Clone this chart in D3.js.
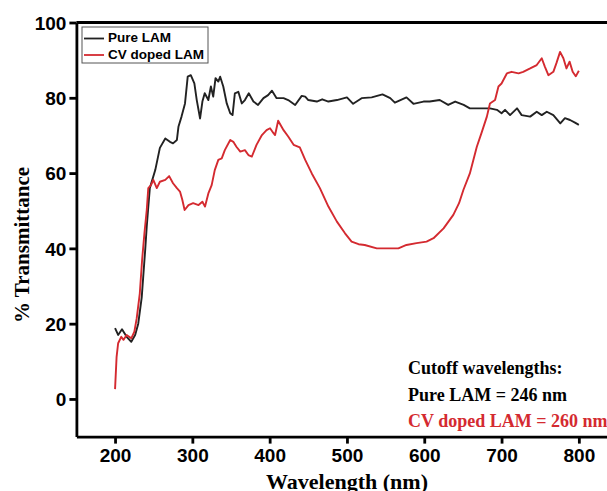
<!DOCTYPE html>
<html>
<head>
<meta charset="utf-8">
<script src="https://cdn.jsdelivr.net/npm/d3@7"></script>
<style>
  body { margin: 0; background: #fff; }
  .axis path, .axis line { stroke: #000; stroke-width: 2.8; }
  .axis text { font-family: "Liberation Sans", Arial, sans-serif; font-weight: bold; font-size: 19px; fill: #000; }
</style>
</head>
<body>
<div id="chart"></div>
<script>
// Pure LAM spectrum (wavelength nm, % transmittance)
var pureWl = [200, 204, 209, 215, 221, 226, 230, 234.5, 239, 241, 243, 245, 252, 258, 265, 271, 275, 280, 282, 286,
  290.5, 294, 298, 302.6, 305.7, 310, 313, 316, 320.7, 324, 327, 330, 333.6, 336, 340, 344.5, 349, 352, 355, 359.5,
  364, 368, 373, 379, 385, 392, 398, 403, 409, 418, 424, 433, 441.5, 446, 450, 461, 468, 476, 487, 500, 508, 519,
  532, 546, 556, 562, 577, 586, 599, 607, 620, 631, 640, 651, 659, 672, 685, 694, 700, 704.5, 711, 720, 726, 737,
  745.5, 752, 758.5, 767, 776, 782, 788.6, 795, 800];
var pureT = [18.8, 17, 18.5, 16.5, 15.2, 17, 20, 27, 39.6, 45.8, 51, 56, 60.8, 66.7, 69.2, 68.3, 67.9, 68.8, 72.3, 75,
  78.5, 85.6, 86, 83.8, 79.4, 74.5, 79, 81.2, 79.4, 83, 80.3, 85.2, 84.3, 85.6, 83, 78.5, 75.9, 75.4, 81.2, 81.6,
  78.5, 79.4, 81.2, 79, 78.1, 79.9, 80.7, 81.9, 79.9, 79.9, 79.4, 78.1, 80.5, 80.3, 79.4, 79, 79.6, 79, 79.4, 80.1, 78.4, 79.9,
  80.1, 80.9, 79.9, 78.7, 80.1, 78.4, 79, 79, 79.4, 78.1, 79, 78.1, 77.2, 77.2, 77.2, 76.8, 75.9, 76.8, 75.4, 77.2, 75.4, 75,
  76.3, 75.4, 76.3, 75.4, 73.2, 74.6, 74.1, 73.4, 72.8];

// CV doped LAM spectrum
var cvWl = [200, 202, 204, 208, 211, 215, 221, 225, 228, 232, 235, 238, 241, 243, 246.5, 249.5, 254, 258, 265, 270,
  275, 280, 284, 287, 290, 295, 301, 308, 313, 316.4, 320.7, 325, 329, 333.6, 338, 342, 349, 353, 357, 362,
  368, 372.5, 377, 383, 390, 396, 400.5, 405, 407, 411, 418, 424, 431, 439, 446, 454.5, 465, 476, 487, 497.5,
  506, 515, 523, 538.6, 556, 566.5, 577, 590, 603, 612, 625, 637.6, 645, 650.6, 659, 668, 674, 681, 685, 691.6,
  696, 700, 707, 713, 722, 728, 737, 745.5, 752, 756, 760.6, 767, 771, 775.7, 780, 784, 788, 792, 796, 800];
var cvT = [2.6, 11.2, 14.8, 16.5, 15.7, 17, 16.1, 17.9, 21.4, 28, 36.9, 44, 50.2, 56, 56.8, 58.2, 56, 57.7, 58.2, 59.2,
  57.3, 56, 55.1, 52.9, 50.2, 51.5, 52, 51.5, 52.4, 51.1, 54.6, 56.8, 60.8, 63.5, 63.9, 66.1, 68.8, 68.3, 67, 65.7,
  66.1, 64.8, 64.4, 67.5, 70.1, 71.4, 71.9, 70.6, 70.1, 73.9, 71.4, 69.7, 67.5, 66.8, 63.5, 59.9, 56, 51.1, 47.1, 44,
  41.8, 41.1, 40.9, 40, 40, 40, 40.9, 41.4, 41.8, 42.7, 45.3, 48.9, 52, 55.5, 59.9, 67, 70.6, 75, 78.5, 79.4,
  83, 83.8, 86.5, 86.9, 86.5, 86.9, 87.8, 88.7, 90.5, 88.3, 86, 86.9, 89.2, 92.2, 90.5, 87.8, 89.6, 86.9, 85.7, 87.2];

var xTicks = [200, 300, 400, 500, 600, 700, 800];
var yTicks = [0, 20, 40, 60, 80, 100];
var seriesNames = ["Pure LAM", "CV doped LAM"];
var seriesColors = ["#222222", "#d42a30"];
var cutoffLines = ["Cutoff wavelengths:", "Pure LAM = 246 nm", "CV doped LAM = 260 nm"];

var svgWidth = 607;
var svgHeight = 491;

var svg = d3.select("#chart")
  .append("svg")
  .attr("width", svgWidth)
  .attr("height", svgHeight);

// scales (the right part of the frame runs off the picture)
var x = d3.scaleLinear().domain([150, 850]).range([76.4, 617.5]);
var y = d3.scaleLinear().domain([-10, 100]).range([436.6, 22.5]);

// top border line
svg.append("line")
  .attr("x1", x(150)).attr("x2", svgWidth + 5)
  .attr("y1", y(100)).attr("y2", y(100))
  .attr("stroke", "#000")
  .attr("stroke-width", 2.8);

var xAxis = svg.append("g")
  .attr("class", "axis")
  .attr("transform", `translate(0, ${y(-10)})`)
  .call(d3.axisBottom(x).tickValues(xTicks).tickSize(7).tickSizeOuter(0).tickPadding(5));

var yAxis = svg.append("g")
  .attr("class", "axis")
  .attr("transform", `translate(${x(150)}, 0)`)
  .call(d3.axisLeft(y).tickValues(yTicks).tickSize(7).tickSizeOuter(0).tickPadding(3));

yAxis.selectAll("text").attr("dy", "0.36em");

// curves
var line = d3.line()
  .x(d => x(d[0]))
  .y(d => y(d[1]));

var series = [d3.zip(pureWl, pureT), d3.zip(cvWl, cvT)];

svg.selectAll(".curve")
  .data(series)
  .enter()
  .append("path")
  .attr("class", "curve")
  .attr("d", line)
  .attr("fill", "none")
  .attr("stroke", (d, i) => seriesColors[i])
  .attr("stroke-width", 1.9)
  .attr("stroke-linejoin", "round");

// legend
var legend = svg.append("g").attr("transform", "translate(82, 27)");
legend.append("rect")
  .attr("width", 126).attr("height", 36)
  .attr("fill", "#fff")
  .attr("stroke", "#555")
  .attr("stroke-width", 1);

seriesNames.forEach(function (name, i) {
  legend.append("line")
    .attr("x1", 2).attr("x2", 22)
    .attr("y1", 11.5 + i * 16.5).attr("y2", 11.5 + i * 16.5)
    .attr("stroke", seriesColors[i])
    .attr("stroke-width", 1.8);
  legend.append("text")
    .attr("x", 26)
    .attr("y", 15 + i * 16.5)
    .attr("font-family", "Liberation Sans, Arial, sans-serif")
    .attr("font-weight", "bold")
    .attr("font-size", "13.5px")
    .attr("fill", "#000")
    .text(name);
});

// cutoff annotation
svg.selectAll(".cutoff")
  .data(cutoffLines)
  .enter()
  .append("text")
  .attr("class", "cutoff")
  .attr("x", 408)
  .attr("y", (d, i) => 374 + i * 26.5)
  .attr("font-family", "Liberation Serif, Times New Roman, serif")
  .attr("font-weight", "bold")
  .attr("font-size", "18px")
  .attr("fill", (d, i) => i === 2 ? seriesColors[1] : "#000")
  .text(d => d);

// axis titles
svg.append("text")
  .attr("transform", `translate(29, 245) rotate(-90)`)
  .attr("text-anchor", "middle")
  .attr("font-family", "Liberation Serif, Times New Roman, serif")
  .attr("font-weight", "bold")
  .attr("font-size", "21px")
  .attr("fill", "#000")
  .text("% Transmittance");

svg.append("text")
  .attr("x", 347)
  .attr("y", 489)
  .attr("text-anchor", "middle")
  .attr("font-family", "Liberation Serif, Times New Roman, serif")
  .attr("font-weight", "bold")
  .attr("font-size", "22px")
  .attr("fill", "#000")
  .text("Wavelength (nm)");
</script>
</body>
</html>
